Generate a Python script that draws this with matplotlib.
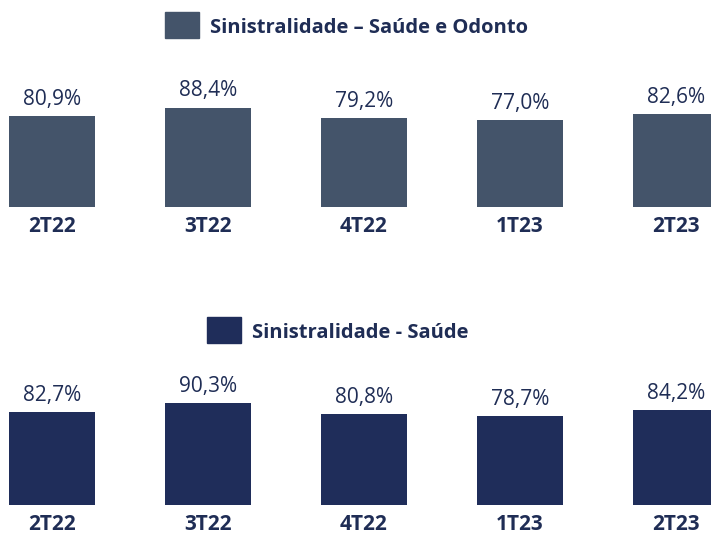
import matplotlib
matplotlib.use("Agg")
import matplotlib.pyplot as plt
from matplotlib.patches import Rectangle

quarters = ["2T22", "3T22", "4T22", "1T23", "2T23"]
saude_odonto = [80.9, 88.4, 79.2, 77.0, 82.6]
saude = [82.7, 90.3, 80.8, 78.7, 84.2]
titles = ["Sinistralidade – Saúde e Odonto", "Sinistralidade - Saúde"]

plt.rcParams['font.family'] = ['Open Sans', 'DejaVu Sans']
text_col = "#1F2D55"
bar_cols = ["#44546A", "#1F2D5A"]

W, H = 711, 536
fig = plt.figure(figsize=(W / 100, H / 100), dpi=100)

def fx(px):
    return px / W

def fy(py):
    return 1 - py / H

# axes: y=0 at pixel row, 100 -> 112.5 px above
panels = [(207, saude_odonto), (505, saude)]
for (base, vals), col in zip(panels, bar_cols):
    ax = fig.add_axes([0, fy(base), 1, 112.5 / H])
    x = range(len(quarters))
    bars = ax.bar(x, vals, width=0.5545, color=col)
    ax.set_xlim(-52 / 156, (W - 52) / 156)
    ax.set_ylim(0, 100)
    ax.axis("off")
    for i, v in enumerate(vals):
        ax.annotate(f"{v:.1f}%".replace(".", ","), (i, v), xytext=(0, 8),
                    textcoords="offset points", ha="center", va="baseline",
                    fontsize=15, color=text_col, annotation_clip=False)
        ax.annotate(quarters[i], (i, 0), xytext=(0, -17.8),
                    textcoords="offset points", ha="center", va="baseline",
                    fontsize=15, fontweight="bold", color=text_col,
                    annotation_clip=False)

# legend swatches and titles
legends = [(165, 11.7, 33, titles[0], bar_cols[0]),
           (206.7, 316.7, 337.7, titles[1], bar_cols[1])]
for x0, y0, base, label, col in legends:
    fig.add_artist(Rectangle((fx(x0), fy(y0 + 26)), 34 / W, 26 / H,
                             transform=fig.transFigure, color=col))
    fig.text(fx(x0 + 45), fy(base), label, fontsize=14.5, fontweight="bold",
             color=text_col, va="baseline", ha="left")

fig.savefig("out.png", dpi=100)
